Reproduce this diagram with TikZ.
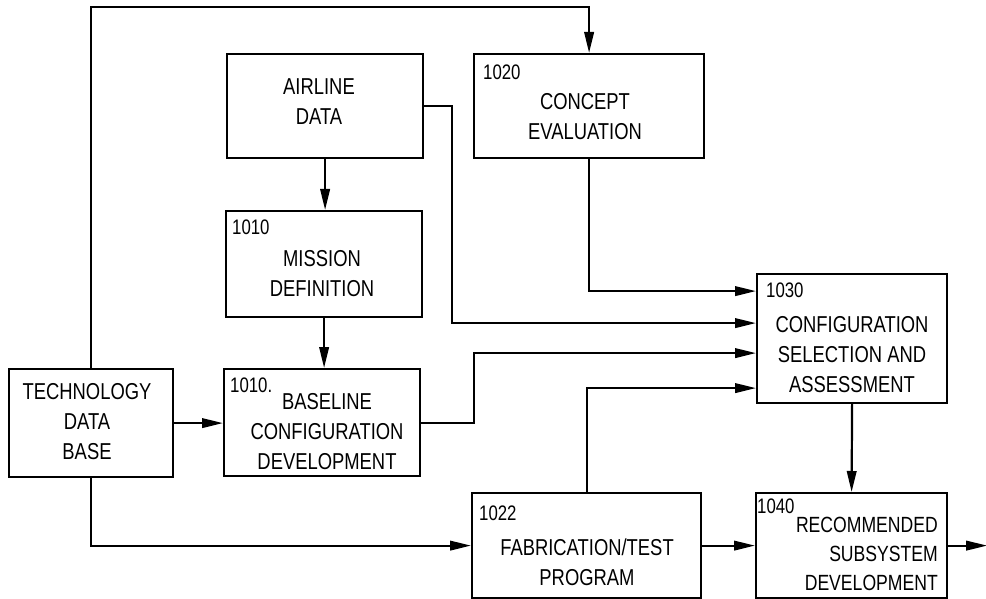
\documentclass[tikz,border=0pt]{standalone}
\usepackage{fontspec}
\setmainfont{Liberation Sans}[FakeStretch=0.8]
\usetikzlibrary{arrows.meta,calc}
\tikzset{
  box/.style={draw, line width=2.2pt, rectangle, inner sep=0pt, anchor=north west},
  txt/.style={align=center, inner sep=0pt, font=\fontsize{23}{30}\selectfont},
  num/.style={anchor=west, inner sep=0pt, font=\fontsize{21}{25}\selectfont},
  arr/.style={line width=2.2pt, -{Triangle[length=21pt,width=9.5pt]}}
}
\begin{document}
\begin{tikzpicture}[x=1pt,y=-1pt]
\useasboundingbox (0,0) rectangle (986,599);
% boxes
\node[box, minimum width=164pt, minimum height=108pt] (tech) at (8,368) {};
\node[box, minimum width=196pt, minimum height=104pt] (airline) at (226,53) {};
\node[box, minimum width=230pt, minimum height=104pt] (concept) at (473,53) {};
\node[box, minimum width=196pt, minimum height=106pt] (mission) at (225,210) {};
\node[box, minimum width=196pt, minimum height=107pt] (baseline) at (223,368) {};
\node[box, minimum width=190pt, minimum height=129pt] (cfg) at (756,273) {};
\node[box, minimum width=229pt, minimum height=105pt] (fab) at (471,492) {};
\node[box, minimum width=191pt, minimum height=105pt] (rec) at (755,492) {};
% texts
\node[txt] (techT) at (87,422) {TECHNOLOGY\\DATA\\BASE};
\node[txt] (airlineT) at (319,102) {AIRLINE\\DATA};
\node[num] (conceptN) at (483,72) {1020};
\node[txt] (conceptT) at (585,117) {CONCEPT\\EVALUATION};
\node[num] (missionN) at (232,227) {1010};
\node[txt] (missionT) at (322,274) {MISSION\\DEFINITION};
\node[num] (baselineN) at (230,385) {1010.};
\node[txt] (baselineT) at (327,432) {BASELINE\\CONFIGURATION\\DEVELOPMENT};
\node[num] (cfgN) at (766,290) {1030};
\node[txt] (cfgT) at (852,355) {CONFIGURATION\\SELECTION AND\\ASSESSMENT};
\node[num] (fabN) at (479,513) {1022};
\node[txt] (fabT) at (587,562) {FABRICATION/TEST\\PROGRAM};
\node[num] (recN) at (757,506) {1040};
\node[txt, align=right, anchor=east, font=\fontsize{22}{29}\selectfont] (recT) at (938,554) {RECOMMENDED\\SUBSYSTEM\\DEVELOPMENT};
% connectors
\coordinate (topy) at (0,7);
\draw[arr] (tech.north) |- (topy -| concept.north) -- (concept.north);
\draw[arr] (airline.south) -- (airline.south |- mission.north);
\draw[arr] (mission.south) -- (mission.south |- baseline.north);
\draw[arr] (airline.east) -- ++(28,0) |- ([yshift=15.5pt]cfg.west);
\draw[arr] (concept.south) |- ([yshift=47.5pt]cfg.west);
\draw[arr] (baseline.east) -- ++(53,0) |- ([yshift=-14.5pt]cfg.west);
\draw[arr] (fab.north) |- ([yshift=-49.5pt]cfg.west);
\draw[arr] (tech.east) -- (tech.east -| baseline.west);
\draw[arr] (tech.south) |- (fab.west);
\draw[arr] (fab.east) -- (rec.west);
\draw[arr] (cfg.south) -- (rec.north);
\coordinate (out) at ($(rec.east)+(39,0)$);
\draw[arr] (rec.east) -- (out);
\end{tikzpicture}
\end{document}
